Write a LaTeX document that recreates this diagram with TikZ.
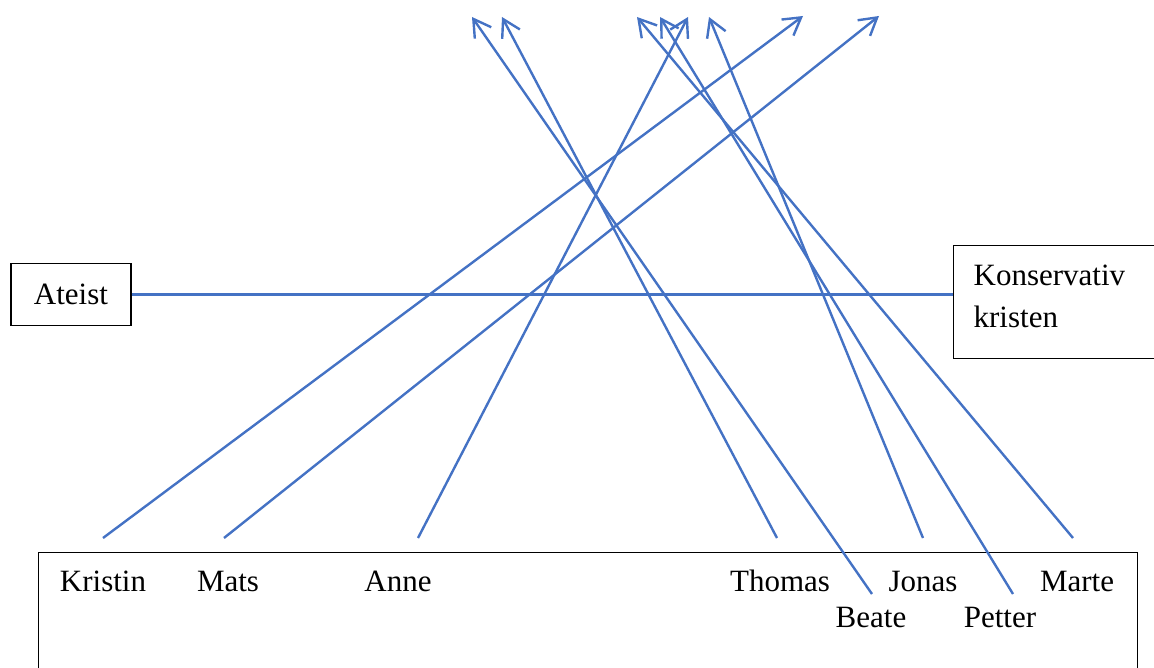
\documentclass[tikz,border=0pt]{standalone}
\usepackage{fontspec}
\setmainfont{Liberation Serif}
\usetikzlibrary{arrows.meta}
\definecolor{lineblue}{RGB}{68,114,196}
\begin{document}
\begin{tikzpicture}[x=1pt,y=-1pt,font=\fontsize{31}{42}\selectfont,
  box/.style={draw=black,line width=1.3pt},
  pname/.style={anchor=base,inner sep=0pt},
  vote/.style={lineblue,line width=2.4pt,-{Straight Barb[length=17pt,width=20pt]}}]
\clip (0,0) rectangle (1154,668);
% the two ends of the scale
\node[box,minimum width=120,minimum height=62] (ateist) at (71,294.5) {Ateist};
\node[box,anchor=north west,minimum width=210,text width=180,inner xsep=20,
  inner ysep=19,text depth=54pt,align=left] (kons) at (953,245) {Konservativ\\kristen};
\draw[lineblue,line width=2.4pt] (ateist.east) -- (ateist.east -| kons.west);
% the people
\node[box,anchor=north west,minimum width=1099,minimum height=140] (panel) at (38,552) {};
\node[pname] (kristin) at (103,591) {Kristin};
\node[pname] (mats) at (228,591) {Mats};
\node[pname] (anne) at (398,591) {Anne};
\node[pname] (thomas) at (780,591) {Thomas};
\node[pname] (jonas) at (923,591) {Jonas};
\node[pname] (marte) at (1077,591) {Marte};
\node[pname] (beate) at (871,627) {Beate};
\node[pname] (petter) at (1000,627) {Petter};
% where each one moves
\foreach \n/\x/\y/\u/\v in {kristin/103/538/803/16, mats/224/538/879/16,
  anne/418/538/688/17, thomas/777/538/502/17, beate/872/594/472/17,
  jonas/923/538/709/17, petter/1013/594/660/17, marte/1073/538/637/17}{
  \coordinate (\n-a) at (\x,\y);
  \coordinate (\n-b) at (\u,\v);
  \draw[vote] (\n-a) -- (\n-b);
}
\end{tikzpicture}
\end{document}
